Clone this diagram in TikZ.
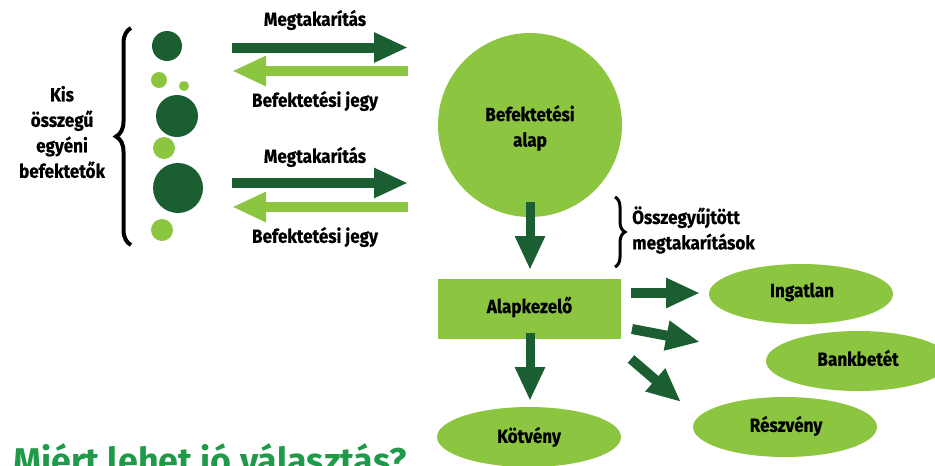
\documentclass[tikz,border=0pt]{standalone}
\usepackage{fontspec}
\setmainfont{Fira Sans}[FakeStretch=0.9, BoldFeatures={FakeBold=0.5}]
\newfontfamily\titlefont{Fira Sans}
\usetikzlibrary{arrows.meta,decorations.pathreplacing,shapes.geometric}
\definecolor{dg}{HTML}{1B5E32}
\definecolor{lg}{HTML}{8CC640}
\definecolor{tg}{HTML}{1F9A48}
\tikzset{
  lbl/.style={font=\bfseries\fontsize{19}{25.5}\selectfont, text=black, inner sep=0pt, align=center},
  fatdark/.style={draw=dg, line width=10pt, -{Triangle[width=28pt,length=34pt]}},
  fatlight/.style={draw=lg, line width=10pt, -{Triangle[width=28pt,length=34pt]}},
  dball/.style={circle, fill=dg, inner sep=0pt},
  lball/.style={circle, fill=lg, inner sep=0pt},
  leaf/.style={ellipse, fill=lg, minimum width=184pt, minimum height=60pt, inner sep=0pt},
  bigbrace/.style={decorate, decoration={brace, amplitude=15pt}, line width=4pt, black},
}
\begin{document}
\begin{tikzpicture}[x=1pt,y=-1pt]
\useasboundingbox (0,0) rectangle (935,466);
% investors
\node[lbl] (inv) at (62,132) {Kis\\összegű\\egyéni\\befektetők};
\draw[bigbrace] (131,245) -- (131,28);
\node[dball, minimum size=30pt] (c1) at (167,46) {};
\node[lball, minimum size=16pt] (c2) at (159,80) {};
\node[lball, minimum size=10pt] (c3) at (184,86) {};
\node[dball, minimum size=42pt] (c4) at (177,116) {};
\node[lball, minimum size=22pt] (c5) at (164,148) {};
\node[dball, minimum size=50pt] (c6) at (178,188) {};
\node[lball, minimum size=22pt] (c7) at (162,230) {};
% fund
\node[circle, fill=lg, minimum size=184pt, inner sep=0pt] (fund) at (530,125) {};
\node[lbl] (fundt) at (530,128) {Befektetési\\alap};
% arrows between
\coordinate (a1s) at (232,47.5); \coordinate (a1e) at (408,47.5);
\coordinate (a2s) at (408,71); \coordinate (a2e) at (232,71);
\coordinate (a3s) at (232,183); \coordinate (a3e) at (408,183);
\coordinate (a4s) at (408,207); \coordinate (a4e) at (232,207);
\draw[fatdark] (a1s) -- (a1e);
\draw[fatlight] (a2s) -- (a2e);
\draw[fatdark] (a3s) -- (a3e);
\draw[fatlight] (a4s) -- (a4e);
\node[lbl] (m1) at (315,20) {Megtakarítás};
\node[lbl] (b1) at (315,101) {Befektetési jegy};
\node[lbl] (m2) at (315,157) {Megtakarítás};
\node[lbl] (b2) at (315,237) {Befektetési jegy};
% manager
\node[rectangle, fill=lg, minimum width=183pt, minimum height=60pt, inner sep=0pt] (mgr) at (529.5,309) {};
\node[lbl] (mgrt) at (529.5,307) {Alapkezelő};
\coordinate (d1s) at (530,202); \coordinate (d1e) at (530,270);
\draw[fatdark, line width=9pt] (d1s) -- (d1e);
\draw[bigbrace, decoration={brace, amplitude=10pt}, line width=3pt] (615,197) -- (615,267);
\node[lbl, align=left, anchor=west] (coll) at (632,230) {Összegyűjtött\\megtakarítások};
% leaves
\node[leaf] (kot) at (529,437) {};
\node[lbl] at (529,437) {Kötvény};
\node[leaf] (ing) at (801,294) {};
\node[lbl] at (802,292) {Ingatlan};
\node[leaf] (bank) at (858,361) {};
\node[lbl] at (858,358) {Bankbetét};
\node[leaf] (resz) at (785,427) {};
\node[lbl] at (786,426) {Részvény};
\coordinate (d2s) at (530,333); \coordinate (d2e) at (530,401);
\draw[fatdark, line width=9pt] (d2s) -- (d2e);
\coordinate (r1s) at (631,293); \coordinate (r1e) at (700,293);
\coordinate (r2s) at (632,329); \coordinate (r2e) at (700,342);
\coordinate (r3s) at (631,359); \coordinate (r3e) at (681,402);
\draw[fatdark] (r1s) -- (r1e);
\draw[fatdark] (r2s) -- (r2e);
\draw[fatdark] (r3s) -- (r3e);
% title
\node[font=\titlefont\bfseries\fontsize{35.8}{40}\selectfont, text=tg, anchor=base west, inner sep=0pt] (title) at (13,473) {Miért lehet jó választás?};
\end{tikzpicture}
\end{document}
